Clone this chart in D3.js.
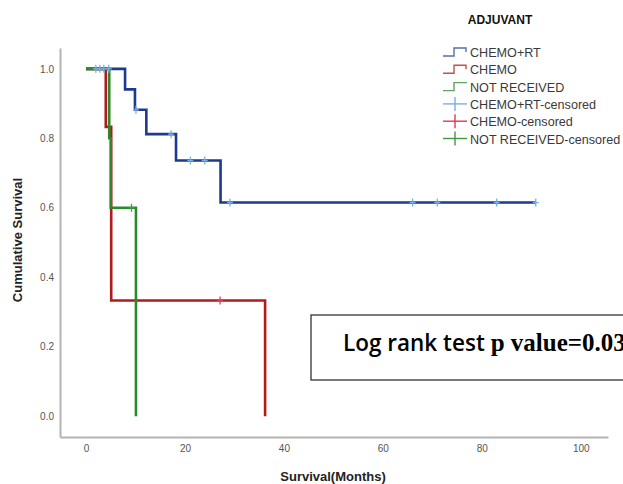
<!DOCTYPE html>
<html lang="en">
<head>
<meta charset="UTF-8">
<script src="https://cdn.jsdelivr.net/npm/d3@7"></script>
<title>Kaplan-Meier ADJUVANT</title>
<style>
    body { margin: 0; background: #fff; }
    svg { display: block; font-family: "Liberation Sans", Arial, sans-serif; }
</style>
</head>
<body>
<script>
    const w = 623;
    const h = 484;

    // survival curves (time in months, cumulative survival)
    const groups = ["CHEMO+RT", "CHEMO", "NOT RECEIVED"];
    const rtTimes = [0, 7.9, 9.9, 12.2, 18.2, 27.2, 90.9];
    const rtSurv = [1.0, 0.941, 0.882, 0.812, 0.736, 0.615, 0.615];
    const chemoTimes = [0, 4.0, 5.1, 36.2];
    const chemoSurv = [1.0, 0.833, 0.333, 0.0];
    const notTimes = [0, 4.7, 5.0, 10.1];
    const notSurv = [1.0, 0.8, 0.6, 0.0];

    // censored observations
    const rtCensTimes = [2.0, 2.8, 3.6, 4.6, 10.1, 17.2, 21.1, 24.0, 29.1, 66.0, 71.0, 83.0, 90.9];
    const rtCensSurv = [1.0, 1.0, 1.0, 1.0, 0.882, 0.812, 0.736, 0.736, 0.615, 0.615, 0.615, 0.615, 0.615];
    const chemoCensTimes = [27.1];
    const chemoCensSurv = [0.333];
    const notCensTimes = [9.2];
    const notCensSurv = [0.6];

    const xTicks = [0, 20, 40, 60, 80, 100];
    const yTicks = [0.0, 0.2, 0.4, 0.6, 0.8, 1.0];
    const legendLabels = ["CHEMO+RT", "CHEMO", "NOT RECEIVED", "CHEMO+RT-censored", "CHEMO-censored", "NOT RECEIVED-censored"];

    const lineColors = ["#1d3a8f", "#b01c1c", "#2a8a2a"];
    const censColors = ["#7aaee8", "#e03a55", "#3f9a3f"];
    const legendLineColors = ["#5470b0", "#c45050", "#5fa45f"];

    const svg = d3.select("body")
                    .append("svg")
                    .attr("width", w)
                    .attr("height", h);

    const xScale = d3.scaleLinear().domain([-5.25, 105.5]).range([60, 608]);
    const yScale = d3.scaleLinear().domain([-0.06, 1.06]).range([437, 48]);

    //axes
    const xAxis = d3.axisBottom(xScale).tickValues(xTicks).tickSize(0).tickPadding(8).tickFormat(d3.format("d"));
    const yAxis = d3.axisLeft(yScale).tickValues(yTicks).tickSize(0).tickPadding(6).tickFormat(d3.format(".1f"));

    const gx = svg.append("g")
        .attr("transform", "translate(0," + yScale.range()[0] + ")")
        .call(xAxis);
    const gy = svg.append("g")
        .attr("transform", "translate(" + xScale.range()[0] + ",0)")
        .call(yAxis);

    [gx, gy].forEach(g => {
        g.select(".domain").attr("stroke", "#b4b4b4").attr("stroke-width", 2);
        g.selectAll("text").attr("fill", "#555").style("font-size", "10px").style("font-family", "'Liberation Sans', Arial, sans-serif");
    });

    //axis titles
    svg.append("text")
        .attr("transform", "translate(22,240) rotate(-90)")
        .attr("text-anchor", "middle")
        .style("font-size", "13px")
        .style("font-weight", "bold")
        .attr("fill", "#222")
        .text("Cumulative Survival");

    svg.append("text")
        .attr("x", 333)
        .attr("y", 481)
        .attr("text-anchor", "middle")
        .style("font-size", "13px")
        .style("font-weight", "bold")
        .attr("fill", "#222")
        .text("Survival(Months)");

    //curves
    const line = d3.line()
        .x(d => xScale(d[0]))
        .y(d => yScale(d[1]))
        .curve(d3.curveStepAfter);

    const curves = [
        d3.zip(rtTimes, rtSurv),
        d3.zip(chemoTimes, chemoSurv),
        d3.zip(notTimes, notSurv)
    ];
    const censored = [
        d3.zip(rtCensTimes, rtCensSurv),
        d3.zip(chemoCensTimes, chemoCensSurv),
        d3.zip(notCensTimes, notCensSurv)
    ];

    curves.forEach((c, i) => {
        svg.append("path")
            .datum(c)
            .attr("d", line)
            .attr("fill", "none")
            .attr("stroke", lineColors[i])
            .attr("stroke-width", 2.6);
    });

    censored.forEach((c, i) => {
        const g = svg.append("g").attr("stroke", censColors[i]).attr("stroke-width", 1.3);
        g.selectAll("line.v")
            .data(c)
            .enter()
            .append("line")
            .attr("x1", d => xScale(d[0]))
            .attr("x2", d => xScale(d[0]))
            .attr("y1", d => yScale(d[1]) - 4)
            .attr("y2", d => yScale(d[1]) + 4);
        g.selectAll("line.hz")
            .data(c)
            .enter()
            .append("line")
            .attr("x1", d => xScale(d[0]) - 3)
            .attr("x2", d => xScale(d[0]) + 3)
            .attr("y1", d => yScale(d[1]))
            .attr("y2", d => yScale(d[1]));
    });

    //legend
    svg.append("text")
        .attr("x", 500)
        .attr("y", 24)
        .attr("text-anchor", "middle")
        .style("font-size", "12px")
        .style("font-weight", "bold")
        .attr("fill", "#111")
        .text("ADJUVANT");

    const legend = svg.append("g").attr("transform", "translate(443,52)");
    const rowH = 17.3;

    legendLabels.forEach((label, i) => {
        const y = i * rowH;
        const row = legend.append("g").attr("transform", "translate(0," + y + ")");
        if (i < 3) {
            const p = d3.path();
            p.moveTo(0, 4);
            p.lineTo(11, 4);
            p.lineTo(11, -4);
            p.lineTo(i < 2 ? 23 : 24, -4);
            if (i < 2) p.lineTo(23, 0);
            row.append("path")
                .attr("d", p.toString())
                .attr("fill", "none")
                .attr("stroke", legendLineColors[i])
                .attr("stroke-width", 1.4);
        } else {
            row.append("line").attr("x1", 0).attr("x2", 24).attr("y1", 0).attr("y2", 0)
                .attr("stroke", censColors[i - 3]).attr("stroke-width", 1.4);
            row.append("line").attr("x1", 12).attr("x2", 12).attr("y1", -7).attr("y2", 7)
                .attr("stroke", censColors[i - 3]).attr("stroke-width", 1.4);
        }
        row.append("text")
            .attr("x", 27)
            .attr("y", 5)
            .style("font-size", "12.6px")
            .attr("fill", "#3a3a3a")
            .text(label);
    });

    //log rank annotation
    svg.append("rect")
        .attr("x", 311)
        .attr("y", 315)
        .attr("width", 340)
        .attr("height", 65)
        .attr("fill", "none")
        .attr("stroke", "#222")
        .attr("stroke-width", 1.2);

    const note = svg.append("text")
        .attr("x", 343)
        .attr("y", 351)
        .attr("fill", "#000");
    note.append("tspan")
        .style("font-family", "'Open Sans', sans-serif")
        .style("font-weight", "600")
        .style("font-size", "22.5px")
        .text("Log rank test ");
    note.append("tspan")
        .style("font-family", "'Liberation Serif', serif")
        .style("font-weight", "bold")
        .style("font-size", "25px")
        .text("p value=0.03");
</script>
</body>
</html>
